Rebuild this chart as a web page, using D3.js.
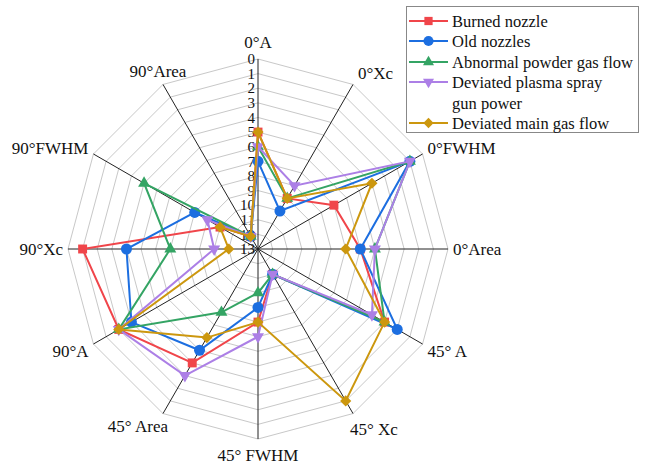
<!DOCTYPE html>
<html>
<head>
<meta charset="utf-8">
<script src="https://cdn.jsdelivr.net/npm/d3@7"></script>
<style>
  body { margin: 0; background: #fff; }
  text { font-family: "Liberation Serif", "DejaVu Serif", serif; fill: #111; }
</style>
</head>
<body>
<div id="chart"></div>
<script>
const axesNames = ["0°A", "0°Xc", "0°FWHM", "0°Area", "45° A", "45° Xc",
  "45° FWHM", "45° Area", "90°A", "90°Xc", "90°FWHM", "90°Area"];
const tickValues = d3.range(0, 14);

const seriesNames = ["Burned nozzle", "Old nozzles", "Abnormal powder gas flow",
  "Deviated plasma spray gun power", "Deviated main gas flow"];
const burned = [5, 9, 7, 6, 3, 11, 8, 4, 2, 1, 10, 12];
const oldNozzles = [7, 10, 1, 6, 2, 11, 9, 5, 3, 4, 8, 12];
const powderGas = [6, 9, 1, 5, 3, 11, 10, 8, 2, 7, 4, 12];
const plasmaPower = [6, 8, 1, 5, 4, 11, 7, 3, 2, 10, 9, 12];
const mainGas = [5, 9, 4, 7, 3, 1, 8, 6, 2, 11, 10, 12];

const series = [
  { name: seriesNames[0], values: burned, color: "#f0454a", shape: "square" },
  { name: seriesNames[1], values: oldNozzles, color: "#1c6ee0", shape: "circle" },
  { name: seriesNames[2], values: powderGas, color: "#34a464", shape: "triUp" },
  { name: seriesNames[3], values: plasmaPower, color: "#ac7fe6", shape: "triDown" },
  { name: seriesNames[4], values: mainGas, color: "#cc970e", shape: "diamond" },
];

const w = 646, h = 465;
const cx = 258, cy = 249, R = 190;

const svg = d3.select("#chart").append("svg").attr("width", w).attr("height", h);

const rScale = d3.scaleLinear().domain([0, 13]).range([R, 0]);
const angle = d3.scalePoint().domain(d3.range(axesNames.length))
  .range([0, 2 * Math.PI * (axesNames.length - 1) / axesNames.length]);

function pt(i, v) {
  const a = angle(i), r = rScale(v);
  return [cx + r * Math.sin(a), cy - r * Math.cos(a)];
}

// grid rings
const ring = d3.line().curve(d3.curveLinearClosed);
svg.append("g").selectAll("path")
  .data(d3.range(0, 13))
  .join("path")
  .attr("d", v => ring(axesNames.map((_, i) => pt(i, v))))
  .attr("fill", "none")
  .attr("stroke", "#c8c8c8")
  .attr("stroke-width", 1);

// spokes
svg.append("g").selectAll("line")
  .data(axesNames)
  .join("line")
  .attr("x1", cx).attr("y1", cy)
  .attr("x2", (d, i) => pt(i, 0)[0])
  .attr("y2", (d, i) => pt(i, 0)[1])
  .attr("stroke", "#222")
  .attr("stroke-width", 1);

// tick labels along top spoke
svg.append("g").selectAll("text")
  .data(tickValues)
  .join("text")
  .attr("x", cx - 3)
  .attr("y", v => pt(0, v)[1])
  .attr("dy", "0.35em")
  .attr("text-anchor", "end")
  .attr("font-size", 15)
  .text(v => v);

// axis labels
function labelPos(i) {
  const [x, y] = pt(i, 0);
  const a = angle(i), s = Math.sin(a), c = Math.cos(a);
  let anchor = "middle", dx = 0, dy = 0;
  if (s > 0.3) { anchor = "start"; dx = 5; }
  else if (s < -0.3) { anchor = "end"; dx = -5; }
  if (c > 0.9) dy = -17;
  else if (c < -0.9) dy = 16;
  else if (Math.abs(c) < 0.1) dy = 0;
  else if (c > 0) dy = -6;
  else dy = 7;
  if (i === 1) { dx = 5; dy = -11; }
  if (i === 11) { anchor = "middle"; dy = -13; }
  if (i === 5) { dx = -3; dy = 16; }
  if (i === 7) { dx = 5; dy = 13; }
  return { x: x + dx, y: y + dy, anchor };
}
svg.append("g").selectAll("text")
  .data(axesNames)
  .join("text")
  .each(function (d, i) {
    const p = labelPos(i);
    d3.select(this).attr("x", p.x).attr("y", p.y).attr("text-anchor", p.anchor);
  })
  .attr("dy", "0.35em")
  .attr("font-size", 17)
  .text(d => d);

function symbolPath(shape, scale) {
  const k = scale || 1;
  if (shape === "square") return d3.symbol(d3.symbolSquare, 80 * k)();
  if (shape === "circle") return d3.symbol(d3.symbolCircle, 95 * k)();
  if (shape === "triUp" || shape === "triDown") return d3.symbol(d3.symbolTriangle, 62 * k)();
  return d3.symbol(d3.symbolSquare, 62 * k)();
}
function symbolRotate(shape) {
  if (shape === "triDown") return 180;
  if (shape === "diamond") return 45;
  return 0;
}

const line = d3.line().curve(d3.curveLinearClosed);
series.forEach(s => {
  const g = svg.append("g");
  const pts = s.values.map((v, i) => pt(i, v));
  g.append("path")
    .attr("d", line(pts))
    .attr("fill", "none")
    .attr("stroke", s.color)
    .attr("stroke-width", 2);
  g.selectAll("path.m")
    .data(pts)
    .join("path")
    .attr("class", "m")
    .attr("d", symbolPath(s.shape))
    .attr("transform", d => `translate(${d[0]},${d[1]}) rotate(${symbolRotate(s.shape)})`)
    .attr("fill", s.color);
});

// legend
const lg = svg.append("g");
lg.append("rect")
  .attr("x", 406.5).attr("y", 6.5)
  .attr("width", 232).attr("height", 126)
  .attr("fill", "#fff")
  .attr("stroke", "#888");
const rowY = [21, 41, 62, 82, 123];
series.forEach((s, i) => {
  const y = rowY[i];
  lg.append("line")
    .attr("x1", 409).attr("x2", 448).attr("y1", y).attr("y2", y)
    .attr("stroke", s.color).attr("stroke-width", 2);
  lg.append("path")
    .attr("d", symbolPath(s.shape, 0.85))
    .attr("transform", `translate(428.5,${y}) rotate(${symbolRotate(s.shape)})`)
    .attr("fill", s.color);
  if (i === 3) {
    lg.append("text").attr("x", 452).attr("y", y).attr("dy", "0.35em")
      .attr("font-size", 16.5).text("Deviated plasma spray");
    lg.append("text").attr("x", 452).attr("y", y + 21).attr("dy", "0.35em")
      .attr("font-size", 16.5).text("gun power");
  } else {
    lg.append("text").attr("x", 452).attr("y", y).attr("dy", "0.35em")
      .attr("font-size", 16.5).text(s.name);
  }
});
</script>
</body>
</html>
